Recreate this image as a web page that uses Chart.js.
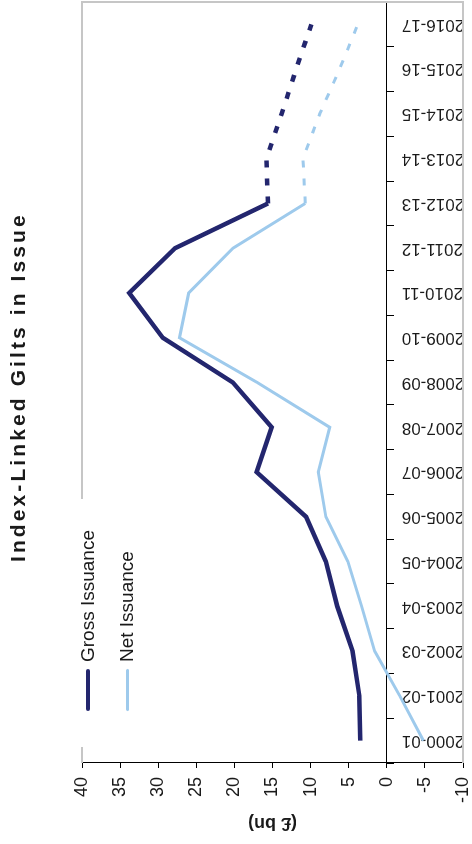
<!DOCTYPE html>
<html>
<head>
<meta charset="utf-8">
<title>Index-Linked Gilts in Issue</title>
<script src="https://cdn.jsdelivr.net/npm/chart.js@4"></script>
<style>
    html, body { margin: 0; padding: 0; background: #fff; overflow: hidden; }
    /* chart is laid out landscape, then turned a quarter anticlockwise like the source */
    #frame {
        position: absolute; left: 0; top: 0;
        width: 844px; height: 472px;
        transform-origin: 0 0;
        transform: translate(0, 844px) rotate(-90deg);
        font-family: 'Liberation Sans', Arial, sans-serif;
        color: #1a1a1a;
    }
    #giltsChart { position: absolute; left: 0; top: 0; display: block; }
    .chart-title {
        position: absolute; left: 282px; top: 6px;
        font-size: 21px; font-weight: bold; line-height: 24px;
        letter-spacing: 3.1px; white-space: nowrap;
    }
    #legend {
        position: absolute; left: 97px; top: 68px;
        width: 248px; height: 78px; background: #fff;
    }
    .legend-item {
        position: absolute; left: 36px; height: 24px;
        display: flex; align-items: center;
        font-size: 19px; white-space: nowrap;
    }
    .legend-swatch { display: inline-block; width: 42px; border-radius: 2px; margin-right: 7px; }
</style>
</head>
<body>
<div id="frame">
    <canvas id="giltsChart" width="844" height="472"></canvas>
    <div class="chart-title">Index-Linked Gilts in Issue</div>
    <div id="legend"></div>
</div>
<script>
// Index-linked gilts: gross and net issuance, £ bn

const CATEGORIES = ['2000-01', '2001-02', '2002-03', '2003-04', '2004-05', '2005-06',
    '2006-07', '2007-08', '2008-09', '2009-10', '2010-11', '2011-12', '2012-13',
    '2013-14', '2014-15', '2015-16', '2016-17'];

const GROSS_ISSUANCE = [3.5, 3.6, 4.5, 6.5, 8.0, 10.6, 17.1, 15.1, 20.2, 29.4, 33.8, 27.8,
    15.6, 15.8, 13.8, 11.9, 9.9];
const NET_ISSUANCE = [-4.8, -1.7, 1.6, 3.3, 5.1, 8.0, 9.0, 7.5, 17.0, 27.2, 26.0, 20.2,
    10.7, 11.0, 8.8, 6.2, 3.8];

// value axis
const Y_MIN = -10;
const Y_MAX = 40;
const Y_STEP = 5;

// lines are dashed from 2012-13 onwards (projections)
const PROJECTION_START = 12;

const TEXT_COLOR = '#1a1a1a';
const FONT_FAMILY = "'Liberation Sans', Arial, sans-serif";

// light grey box round the plot area (left side is the value axis)
const plotFrame = {
    id: 'plotFrame',
    beforeDatasetsDraw(chart) {
        const { ctx, chartArea } = chart;
        ctx.save();
        ctx.strokeStyle = '#c6c6c6';
        ctx.lineWidth = 2;
        ctx.beginPath();
        ctx.moveTo(chartArea.left, chartArea.top);
        ctx.lineTo(chartArea.right, chartArea.top);
        ctx.lineTo(chartArea.right, chartArea.bottom);
        ctx.lineTo(chartArea.left, chartArea.bottom);
        ctx.stroke();
        ctx.restore();
    }
};

function projectionDash(ctx) {
    return ctx.p0DataIndex >= PROJECTION_START ? [7, 11] : undefined;
}

function buildLegend(chart) {
    const box = document.getElementById('legend');
    const tops = [8, 47];
    chart.data.datasets.forEach((ds, i) => {
        const item = document.createElement('div');
        item.className = 'legend-item';
        item.style.top = tops[i] + 'px';
        const swatch = document.createElement('span');
        swatch.className = 'legend-swatch';
        swatch.style.background = ds.borderColor;
        swatch.style.height = ds.borderWidth + 'px';
        item.appendChild(swatch);
        item.appendChild(document.createTextNode(ds.label));
        box.appendChild(item);
    });
}

function initGiltsChart() {
    Chart.defaults.font.family = FONT_FAMILY;
    Chart.defaults.color = TEXT_COLOR;

    const ctx = document.getElementById('giltsChart').getContext('2d');
    const chart = new Chart(ctx, {
        type: 'line',
        data: {
            labels: CATEGORIES,
            datasets: [{
                label: 'Gross Issuance',
                data: GROSS_ISSUANCE,
                borderColor: '#23266e',
                borderWidth: 4.5,
                pointRadius: 0,
                tension: 0,
                segment: { borderDash: projectionDash }
            }, {
                label: 'Net Issuance',
                data: NET_ISSUANCE,
                borderColor: '#9ecaec',
                borderWidth: 3,
                pointRadius: 0,
                tension: 0,
                segment: { borderDash: projectionDash }
            }]
        },
        options: {
            responsive: false,
            animation: false,
            events: [],
            layout: { padding: { top: 82, right: 2, bottom: 9, left: 0 } },
            plugins: {
                legend: { display: false },
                title: { display: false },
                tooltip: { enabled: false }
            },
            scales: {
                x: {
                    type: 'category',
                    position: { y: 0 },
                    offset: true,
                    afterFit: scale => {
                        scale.height = 0;
                        scale.paddingLeft = 0;
                        scale.paddingRight = 0;
                    },
                    border: { color: '#000', width: 1 },
                    grid: { offset: true, drawOnChartArea: false, color: '#000', tickLength: 7 },
                    ticks: {
                        autoSkip: false, maxRotation: 90, minRotation: 90, padding: 8,
                        font: { size: 17 }, color: TEXT_COLOR
                    }
                },
                y: {
                    min: Y_MIN,
                    max: Y_MAX,
                    afterFit: scale => {
                        scale.width = 81;
                        scale.paddingTop = 0;
                        scale.paddingBottom = 0;
                    },
                    border: { color: '#000', width: 1 },
                    grid: { drawOnChartArea: false, color: '#000', tickLength: 5 },
                    ticks: { stepSize: Y_STEP, padding: 9, font: { size: 18 }, color: TEXT_COLOR },
                    title: {
                        display: true, text: '(£ bn)', color: TEXT_COLOR,
                        font: { size: 18, weight: 'bold' }, padding: { top: 10, bottom: 0 }
                    }
                }
            }
        },
        plugins: [plotFrame]
    });
    buildLegend(chart);
}

initGiltsChart();
</script>
</body>
</html>
